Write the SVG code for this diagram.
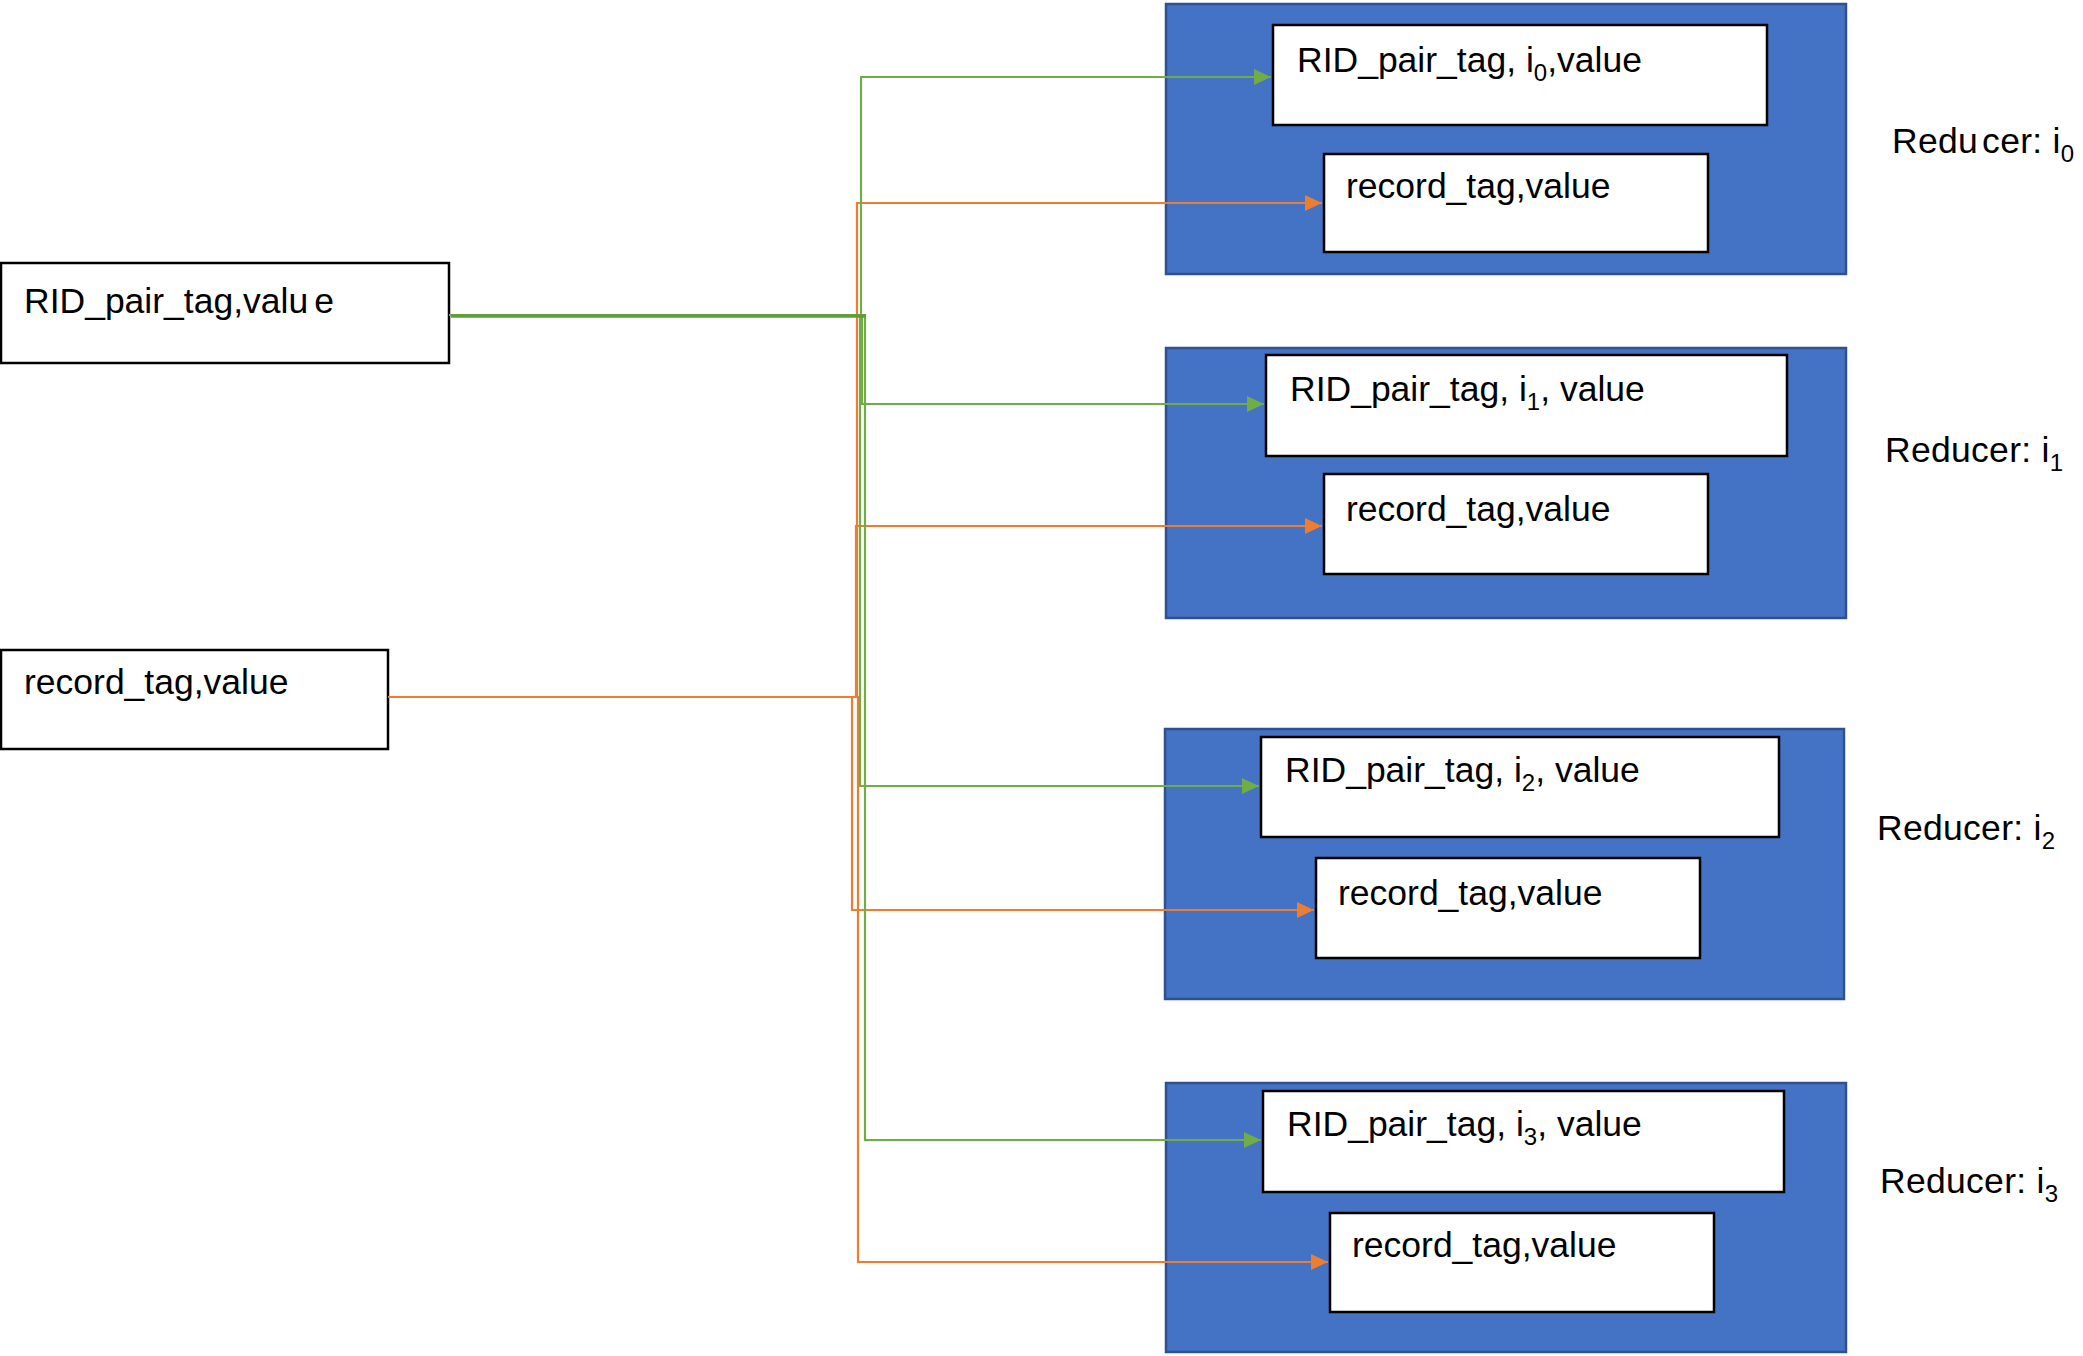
<svg xmlns="http://www.w3.org/2000/svg" width="2083" height="1356" viewBox="0 0 2083 1356">
  <style>
    .box { fill: #ffffff; stroke: #000000; stroke-width: 2.5; }
    .reducer { fill: #4472C4; stroke: #2F528F; stroke-width: 2.5; }
    .lbl { font-family: "Liberation Sans", Arial, sans-serif; font-size: 35.5px; fill: #000000; }
    .rlbl { font-family: "Liberation Sans", Arial, sans-serif; font-size: 35.5px; fill: #000000; letter-spacing: 0.3px; }
    .sub { font-size: 24px; }
    .g { fill: none; stroke: #70AD47; stroke-width: 2.2; }
    .o { fill: none; stroke: #ED7D31; stroke-width: 2.2; }
  </style>
  <defs>
    <marker id="arrG" markerUnits="userSpaceOnUse" markerWidth="18" markerHeight="16" refX="17" refY="8" orient="auto">
      <path d="M0,0 L17,8 L0,16 Z" fill="#70AD47"/>
    </marker>
    <marker id="arrO" markerUnits="userSpaceOnUse" markerWidth="18" markerHeight="16" refX="17" refY="8" orient="auto">
      <path d="M0,0 L17,8 L0,16 Z" fill="#ED7D31"/>
    </marker>
  </defs>

  <rect width="2083" height="1356" fill="#ffffff"/>

  <!-- source records -->
  <g id="src-rid">
    <rect class="box" x="1" y="263" width="448" height="100"/>
    <text class="lbl" x="24" y="313">RID_pair_tag,valu<tspan dx="6">e</tspan></text>
  </g>
  <g id="src-record">
    <rect class="box" x="1" y="650" width="387" height="99"/>
    <text class="lbl" x="24" y="694">record_tag,value</text>
  </g>

  <!-- reducer i0 -->
  <g id="reducer-0">
    <rect class="reducer" x="1166" y="4" width="680" height="270"/>
    <rect class="box" x="1273" y="25" width="494" height="100"/>
    <text class="lbl" x="1297" y="72">RID_pair_tag, i<tspan class="sub" dy="9">0</tspan><tspan dy="-9">,value</tspan></text>
    <rect class="box" x="1324" y="154" width="384" height="98"/>
    <text class="lbl" x="1346" y="198">record_tag,value</text>
  </g>
  <text class="rlbl" x="1892" y="153">Redu<tspan dx="4">cer: i</tspan><tspan class="sub" dy="9">0</tspan></text>

  <!-- reducer i1 -->
  <g id="reducer-1">
    <rect class="reducer" x="1166" y="348" width="680" height="270"/>
    <rect class="box" x="1266" y="355" width="521" height="101"/>
    <text class="lbl" x="1290" y="401">RID_pair_tag, i<tspan class="sub" dy="9">1</tspan><tspan dy="-9">, value</tspan></text>
    <rect class="box" x="1324" y="474" width="384" height="100"/>
    <text class="lbl" x="1346" y="521">record_tag,value</text>
  </g>
  <text class="rlbl" x="1885" y="462">Reducer: i<tspan class="sub" dy="9">1</tspan></text>

  <!-- reducer i2 -->
  <g id="reducer-2">
    <rect class="reducer" x="1165" y="729" width="679" height="270"/>
    <rect class="box" x="1261" y="737" width="518" height="100"/>
    <text class="lbl" x="1285" y="782">RID_pair_tag, i<tspan class="sub" dy="9">2</tspan><tspan dy="-9">, value</tspan></text>
    <rect class="box" x="1316" y="858" width="384" height="100"/>
    <text class="lbl" x="1338" y="905">record_tag,value</text>
  </g>
  <text class="rlbl" x="1877" y="840">Reducer: i<tspan class="sub" dy="9">2</tspan></text>

  <!-- reducer i3 -->
  <g id="reducer-3">
    <rect class="reducer" x="1166" y="1083" width="680" height="269"/>
    <rect class="box" x="1263" y="1091" width="521" height="101"/>
    <text class="lbl" x="1287" y="1136">RID_pair_tag, i<tspan class="sub" dy="9">3</tspan><tspan dy="-9">, value</tspan></text>
    <rect class="box" x="1330" y="1213" width="384" height="99"/>
    <text class="lbl" x="1352" y="1257">record_tag,value</text>
  </g>
  <text class="rlbl" x="1880" y="1193">Reducer: i<tspan class="sub" dy="9">3</tspan></text>

  <!-- elbow connectors from the sources to every reducer slot -->
  <g id="connectors">
    <path class="o" d="M388,697 H857 V203 H1322" marker-end="url(#arrO)"/>
    <path class="o" d="M388,697 H856 V526 H1322" marker-end="url(#arrO)"/>
    <path class="o" d="M388,697 H852 V910 H1314" marker-end="url(#arrO)"/>
    <path class="o" d="M388,697 H858 V1262 H1328" marker-end="url(#arrO)"/>
    <path class="g" d="M449,315 H861 V77 H1271" marker-end="url(#arrG)"/>
    <path class="g" d="M449,315 H862 V404 H1264" marker-end="url(#arrG)"/>
    <path class="g" d="M449,315 H860 V786 H1259" marker-end="url(#arrG)"/>
    <path class="g" d="M449,315 H865 V1140 H1261" marker-end="url(#arrG)"/>
    <path d="M451,316 H866" stroke="#5E9E36" stroke-width="3.5" fill="none"/>
  </g>
</svg>
